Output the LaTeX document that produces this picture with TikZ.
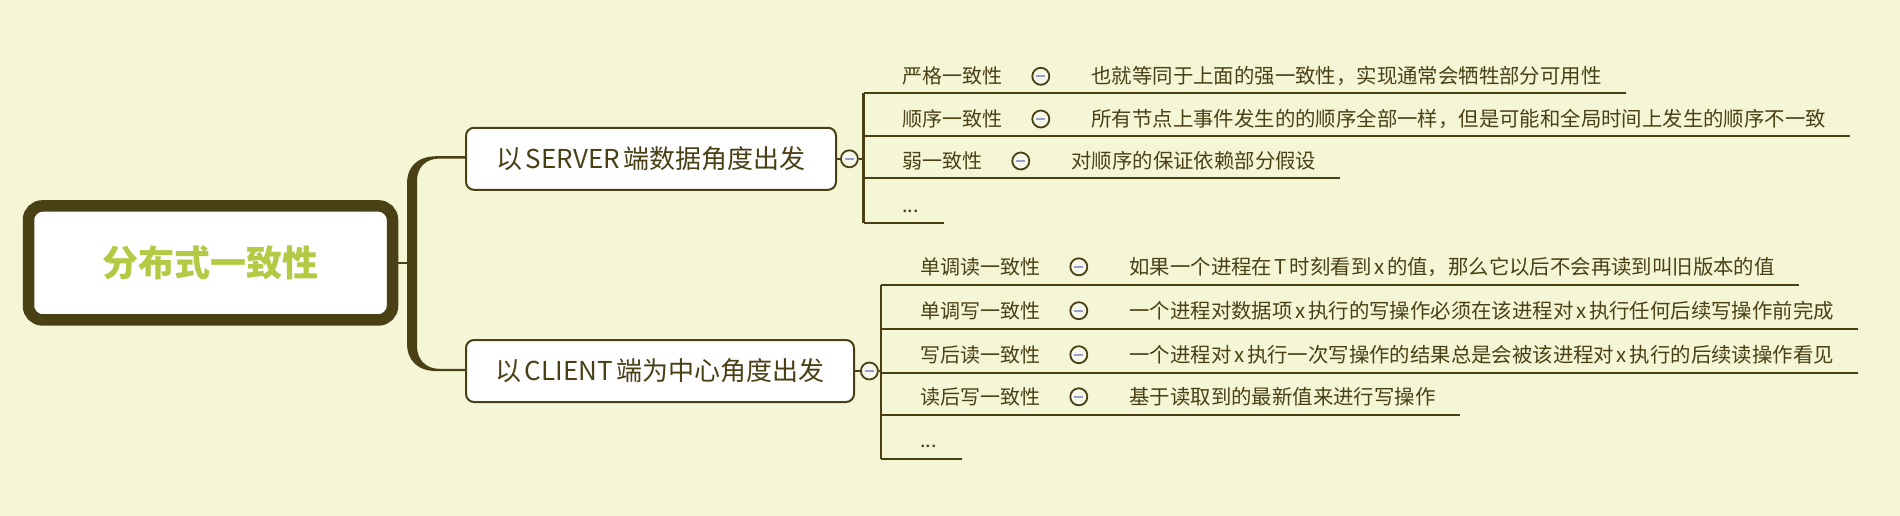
\documentclass[tikz,border=0pt]{standalone}
\usepackage{fontspec}
\setmainfont{Noto Sans CJK SC}[WordSpace=0.6]
\usetikzlibrary{positioning}
\definecolor{bgc}{HTML}{F5F6D6}
\definecolor{ink}{HTML}{4A4015}
\definecolor{leaf}{HTML}{B4C944}
\definecolor{foldmark}{HTML}{9A9ED0}
\definecolor{foldbg}{HTML}{F8F8EA}
\tikzset{
  root/.style={draw=ink,line width=11.5,fill=white,rounded corners=14,minimum width=364,minimum height=114,text=leaf,font=\fontsize{36}{40}\selectfont\bfseries},
  topic/.style={draw=ink,line width=2,fill=white,rounded corners=8,minimum height=62,text=ink,font=\fontsize{26}{30}\selectfont},
  fold/.style={circle,draw=ink,line width=1.8,fill=foldbg,minimum size=17,inner sep=0,
    path picture={\draw[foldmark,line width=2.4] ([xshift=-4.5]path picture bounding box.center) -- ([xshift=4.5]path picture bounding box.center);}},
  lbl/.style={inner sep=0,text=ink,font=\fontsize{20}{24}\selectfont},
  detail/.style={inner sep=0,text=ink,font=\fontsize{20.4}{24}\selectfont},
  link/.style={draw=ink,line width=2.2}
}
\begin{document}
\begin{tikzpicture}[x=1pt,y=-1pt]
\fill[bgc] (0,0) rectangle (1900,516);
\useasboundingbox (0,0) rectangle (1900,516);
%\draw[help lines] (0,0) grid[step=100] (1900,516);
\node[root] (root) at (210.5,262.9) {分布式一致性};
\node[topic,minimum width=370] (server) at (651,158.8) {以 SERVER 端数据角度出发};
\node[topic,minimum width=388] (client) at (660,371) {以 CLIENT 端为中心角度出发};
\node[fold,right=3 of server] (sfold) {};
\node[fold,right=5 of client] (cfold) {};
% brace from root to both topics
\coordinate (brace) at (412,265);
\draw[link] (root.east) -- (root.east -| brace);
\fill[ink] (465,156.2) -- (437,156.2) .. controls (418,156.2) and (407,166) .. (407,184) -- (407,343)
  .. controls (407,361) and (418,371.1) .. (437,371.1) -- (465,371.1) -- (465,368.9) -- (440,368.9)
  .. controls (426,368.9) and (417,360) .. (417,346) -- (417,181) .. controls (417,167) and (426,158.5) .. (440,158.5)
  -- (465,158.5) -- cycle;
\draw[link] (server) -- (sfold);
\draw[link] (client) -- (cfold);
% server side
\foreach \i/\l/\a/\b in {1/93.3/严格一致性/{也就等同于上面的强一致性，实现通常会牺牲部分可用性},
  2/136/顺序一致性/{所有节点上事件发生的的顺序全部一样，但是可能和全局时间上发生的顺序不一致},
  3/178/弱一致性/{对顺序的保证依赖部分假设}}{
  \node[lbl,anchor=west] (s\i) at (902,\l-17) {\a};
  \node[fold,right=29 of s\i] (sf\i) {};
  \node[detail,right=41 of sf\i] (sd\i) {\b};
  \coordinate (sl\i) at (863.5,\l);
  \path ([xshift=24]sd\i.east) coordinate (se\i);
  \draw[link] (sl\i) -- (sl\i -| se\i);
}
\node[lbl,anchor=base west] (s4) at (902,212) {...};
\coordinate (sl4) at (863.5,223);
\path ([xshift=25]s4.east) coordinate (se4);
\draw[link] (sl4) -- (sl4 -| se4);
\draw[link] (sl1) -- (sl4);
\draw[link] (sfold) -- (sfold -| sl1);
% client side
\foreach \i/\l/\a/\b in {1/284.8/单调读一致性/{如果一个进程在 T 时刻看到 x 的值，那么它以后不会再读到叫旧版本的值},
  2/328.7/单调写一致性/{一个进程对数据项 x 执行的写操作必须在该进程对 x 执行任何后续写操作前完成},
  3/372.7/写后读一致性/{一个进程对 x 执行一次写操作的结果总是会被该进程对 x 执行的后续读操作看见},
  4/414.8/读后写一致性/{基于读取到的最新值来进行写操作}}{
  \node[lbl,anchor=west] (c\i) at (920,\l-18) {\a};
  \node[fold,right=29 of c\i] (cf\i) {};
  \node[detail,right=41 of cf\i] (cd\i) {\b};
  \coordinate (cl\i) at (881,\l);
  \path ([xshift=24]cd\i.east) coordinate (ce\i);
  \draw[link] (cl\i) -- (cl\i -| ce\i);
}
\node[lbl,anchor=base west] (c5) at (920,447) {...};
\coordinate (cl5) at (881,459);
\path ([xshift=25]c5.east) coordinate (ce5);
\draw[link] (cl5) -- (cl5 -| ce5);
\draw[link] (cl1) -- (cl5);
\draw[link] (cfold) -- (cfold -| cl1);
\end{tikzpicture}
\end{document}
